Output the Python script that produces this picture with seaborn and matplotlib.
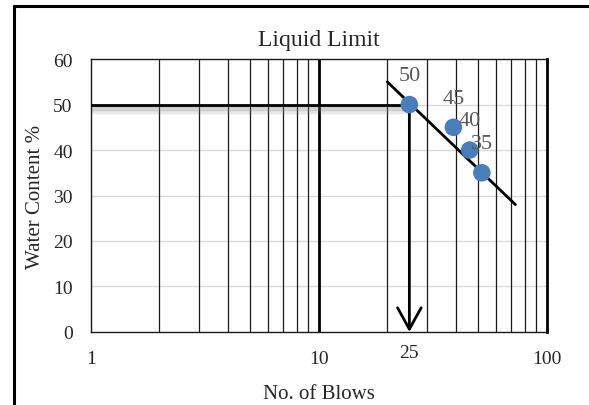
import numpy as np
import matplotlib
matplotlib.use('Agg')
import matplotlib.pyplot as plt
from matplotlib.lines import Line2D
import matplotlib.transforms as mtransforms
import seaborn as sns

# datos
golpes = [25, 39, 46, 52]
humedad = [50, 45, 40, 35]
etiquetas = ['50', '45', '40', '35']

# linea de tendencia (extremos leidos)
tend_x = [20, 73]
tend_y = [55, 28]

# limite liquido
ll_golpes = 25
ll_humedad = 50

ticks_x = [1, 10, 100]
ticks_y = [0, 10, 20, 30, 40, 50, 60]
grid_x = [2, 3, 4, 5, 6, 7, 8, 9, 20, 30, 40, 50, 60, 70, 80, 90]

sns.set_style('white')
plt.rcParams['font.family'] = ['Liberation Serif', 'DejaVu Serif']

fig = plt.figure(figsize=(5.89, 4.06), dpi=100)
ax = fig.add_axes([0.154, 0.18, 0.774, 0.672])

ax.set_xscale('log')
ax.set_xlim(1, 100)
ax.set_ylim(0, 60)

# grilla horizontal gris claro
for yv in ticks_y[1:-1]:
    ax.axhline(yv, color='#d9d9d9', lw=1.0, zorder=0)

# grilla vertical negra
for xv in grid_x:
    ax.axvline(xv, color='#1a1a1a', lw=0.9, zorder=1)
ax.axvline(10, color='black', lw=2.0, zorder=1)

# sombra debajo de la linea horizontal
for i in range(12):
    ax.plot([1, ll_golpes], [ll_humedad - 0.25 - i * 0.17] * 2, color='gray',
            alpha=0.35 * (1 - i / 12), lw=1.0, solid_capstyle='butt', zorder=2)

ax.plot([1, ll_golpes], [ll_humedad, ll_humedad], color='black', lw=2.0, zorder=3)

ax.annotate('', xy=(ll_golpes, 0), xytext=(ll_golpes, ll_humedad),
            arrowprops=dict(arrowstyle='->,head_length=0.9,head_width=0.5',
                            color='black', lw=2.0, mutation_scale=17,
                            shrinkA=0, shrinkB=0),
            zorder=3)

sns.lineplot(x=tend_x, y=tend_y, ax=ax, color='black', lw=2.0, zorder=4)
sns.scatterplot(x=golpes, y=humedad, ax=ax, s=160, color='#4a7ebb',
                edgecolor='none', zorder=5)

for gx, hy, et in zip(golpes, humedad, etiquetas):
    ax.annotate(et, (gx, hy), xytext=(0, 21), textcoords='offset points',
                ha='center', va='center', fontsize=16, color='#595959', zorder=6)

ax.set_xticks(ticks_x)
ax.set_xticklabels(['1', '10', '100'])
ax.set_yticks(ticks_y)
ax.minorticks_off()
ax.tick_params(axis='x', length=0, pad=13, labelsize=14)
ax.tick_params(axis='y', length=0, pad=13, labelsize=14)

trans = mtransforms.blended_transform_factory(ax.transData, ax.transAxes)
ax.text(ll_golpes, -0.045, '25', transform=trans, ha='center', va='top',
        fontsize=14)

for lado in ['left', 'top', 'bottom']:
    ax.spines[lado].set_color('#1a1a1a')
    ax.spines[lado].set_linewidth(1.0)
ax.spines['right'].set_color('black')
ax.spines['right'].set_linewidth(2.0)

ax.set_title('Liquid Limit', fontsize=17, pad=10)
ax.set_xlabel('No. of Blows', fontsize=15, labelpad=12)
ax.set_ylabel('Water Content %', fontsize=15, labelpad=6)

# marco exterior
fig.add_artist(Line2D([14 / 589, 1], [1 - 7 / 406, 1 - 7 / 406], color='black', lw=2.2))
fig.add_artist(Line2D([14 / 589, 14 / 589], [0, 1 - 7 / 406], color='black', lw=2.2))

fig.savefig('out.png', dpi=100)
